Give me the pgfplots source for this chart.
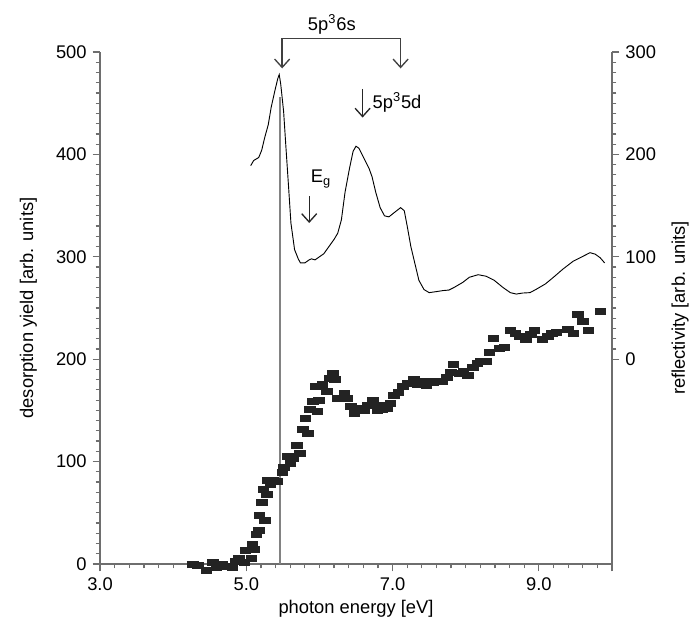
\documentclass[border=0pt]{standalone}
\usepackage{fontspec}
\setmainfont{Liberation Sans}
\usepackage{pgfplots}
\pgfplotsset{compat=1.18}
\usetikzlibrary{arrows.meta}
\definecolor{axgray}{RGB}{110,110,110}
\definecolor{mk}{RGB}{35,35,35}
\definecolor{vline}{RGB}{130,130,130}

\pgfplotstableread{
E Y
4.27 0
4.34 -1
4.45 -6
4.54 2
4.59 -3
4.67 0
4.72 -2
4.81 -3
4.86 3
4.90 5
4.97 2
4.99 13
5.07 5
5.08 19
5.10 14
5.14 29
5.17 33
5.18 47
5.21 60
5.23 73
5.25 43
5.28 68
5.29 82
5.33 78
5.37 82
5.42 81
5.49 89
5.51 94
5.57 105
5.60 98
5.64 103
5.69 116
5.73 108
5.77 131
5.81 142
5.84 128
5.87 151
5.91 159
5.95 173
5.97 149
5.99 160
6.04 175
6.10 169
6.14 181
6.18 186
6.21 180
6.25 162
6.34 167
6.38 162
6.43 154
6.48 147
6.52 150
6.57 152
6.61 150
6.66 155
6.73 160
6.79 150
6.82 155
6.86 151
6.93 152
6.97 157
7.02 165
7.08 168
7.14 173
7.20 176
7.29 180
7.34 175
7.40 178
7.46 174
7.51 178
7.56 177
7.62 178
7.68 178
7.74 182
7.80 187
7.83 195
7.91 186
7.97 188
8.03 184
8.10 192
8.16 196
8.21 198
8.28 198
8.32 207
8.38 220
8.46 211
8.53 212
8.61 228
8.68 225
8.74 222
8.82 219
8.89 224
8.94 228
9.05 219
9.12 222
9.18 225
9.24 226
9.40 229
9.47 225
9.53 244
9.60 237
9.68 228
9.84 247
}\yielddata

\pgfplotstableread{
E R
5.06 189
5.10 194
5.17 197
5.21 204
5.25 216
5.30 229
5.34 246
5.39 262
5.43 274
5.45 278
5.47 269
5.51 242
5.54 209
5.58 166
5.61 133
5.66 107
5.71 98
5.74 94
5.80 94
5.86 97
5.89 98
5.94 97
6.00 100
6.06 103
6.13 110
6.20 117
6.25 123
6.30 136
6.35 163
6.41 186
6.46 203
6.50 208
6.54 206
6.61 196
6.68 186
6.72 178
6.77 163
6.83 148
6.89 140
6.95 139
7.02 143
7.11 148
7.16 145
7.20 130
7.25 110
7.31 92
7.36 77
7.43 68
7.50 65
7.60 66
7.69 67
7.77 67.5
7.84 70
7.96 75
8.05 80
8.17 82.5
8.28 81
8.39 77
8.51 70
8.61 65
8.69 63.6
8.78 64.6
8.88 65
8.97 68.5
9.09 73.5
9.20 80
9.33 88
9.47 95.7
9.59 100
9.70 104
9.77 102.6
9.84 99
9.90 94
}\refldata

\begin{document}
\begin{tikzpicture}[font=\fontsize{11}{13}\selectfont]
\pgfplotsset{
  common/.style={
    scale only axis, width=307pt, height=307pt,
    xmin=3, xmax=10,
    tick align=outside,
    major tick length=4.5pt, minor tick length=2.6pt,
    every tick/.style={axgray, line width=0.7pt},
    axis line style={axgray, line width=0.8pt},
    /pgf/number format/assume math mode=true,
    tick label style={font=\fontsize{11}{13}\selectfont},
    label style={font=\fontsize{11}{13}\selectfont},
  }
}
\begin{axis}[common, name=main,
  ymin=0, ymax=500,
  axis x line*=bottom, axis y line*=left,
  xtick={3,5,7,9,10}, xticklabels={3.0,5.0,7.0,9.0,{}},
  minor xtick={3.2,3.4,3.6,3.8,4.0,4.2,4.4,4.6,4.8,5.2,5.4,5.6,5.8,6.0,6.2,6.4,6.6,6.8,7.2,7.4,7.6,7.8,8.0,8.2,8.4,8.6,8.8,9.2,9.4,9.6,9.8},
  ytick={0,100,200,300,400,500}, minor ytick={10,20,...,490},
  xlabel={photon energy [eV]}, ylabel={desorption yield [arb. units]},
  xlabel style={at={(axis description cs:0.5,-0.088)}, anchor=center},
  ylabel style={at={(axis description cs:-0.14,0.5)}, anchor=center},
  clip=false]
\addplot[vline, line width=1pt] coordinates {(5.46,0) (5.46,456)};
\addplot[only marks, mark=square*, mark size=1.8pt, color=mk,
  mark options={xscale=1.75, draw=mk, fill=mk}] table[x=E, y=Y] {\yielddata};
\draw[line width=0.8pt, black!75, {Straight Barb[length=5pt,width=9pt]}-{Straight Barb[length=5pt,width=9pt]}]
  (axis cs:5.49,484) -- (axis cs:5.49,513) -- (axis cs:7.11,513) -- (axis cs:7.11,484);
\node at (axis cs:6.17,527) {5p\textsuperscript{3}6s};
\draw[line width=0.8pt, black!85, -{Straight Barb[length=5pt,width=9pt]}] (axis cs:6.59,464) -- (axis cs:6.59,436);
\node[anchor=west, inner sep=1pt] at (axis cs:6.70,451) {5p\textsuperscript{3}5d};
\draw[line width=0.8pt, black!85, -{Straight Barb[length=5pt,width=9pt]}] (axis cs:5.86,359) -- (axis cs:5.86,333);
\node at (axis cs:6.02,376) {E\textsubscript{g}};
\end{axis}
\begin{axis}[common,
  ymin=-200, ymax=300,
  axis y line*=right, axis x line=none,
  ytick={0,100,200,300}, minor ytick={10,20,...,290},
  ylabel={reflectivity [arb. units]},
  ylabel style={at={(axis description cs:1.133,0.5)}, anchor=center}]
\addplot[black, line width=0.55pt] table[x=E, y=R] {\refldata};
\end{axis}
\pgfresetboundingbox
\path[use as bounding box] ([xshift=-60pt,yshift=-39.6pt]main.south west) rectangle ([xshift=48pt,yshift=31.2pt]main.north east);
\end{tikzpicture}
\end{document}
